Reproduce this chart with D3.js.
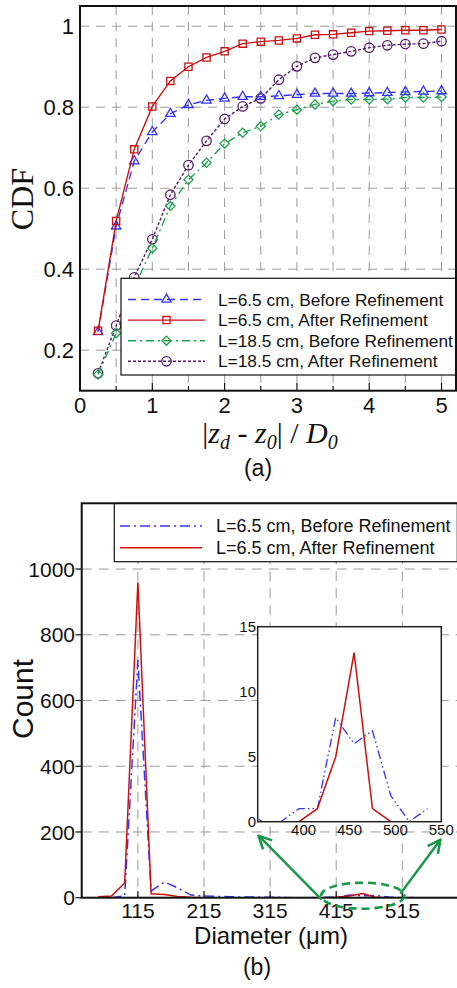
<!DOCTYPE html>
<html>
<head>
<meta charset="utf-8">
<script src="https://cdn.jsdelivr.net/npm/d3@7"></script>
<style>
  body { margin: 0; background: #fff; }
  svg { display: block; }
  text { font-family: "Liberation Sans", Arial, sans-serif; fill: #111; }
</style>
</head>
<body>
<div id="vizArea"></div>
<script>
// ---- data (a): CDF vs |zd - z0| / D0
const cdfX = [0.25, 0.5, 0.75, 1, 1.25, 1.5, 1.75, 2, 2.25, 2.5, 2.75, 3, 3.25, 3.5, 3.75, 4, 4.25, 4.5, 4.75, 5];
const before65 = [0.245, 0.506, 0.667, 0.739, 0.784, 0.806, 0.817, 0.822, 0.826, 0.826, 0.828, 0.831, 0.834, 0.834, 0.834, 0.835, 0.836, 0.838, 0.839, 0.840];
const after65 = [0.248, 0.519, 0.696, 0.802, 0.865, 0.900, 0.923, 0.938, 0.957, 0.962, 0.965, 0.970, 0.979, 0.980, 0.984, 0.988, 0.989, 0.990, 0.990, 0.992];
const before185 = [0.140, 0.242, 0.355, 0.452, 0.556, 0.621, 0.663, 0.710, 0.737, 0.753, 0.782, 0.794, 0.807, 0.815, 0.819, 0.819, 0.820, 0.824, 0.824, 0.825];
const after185 = [0.143, 0.261, 0.380, 0.474, 0.584, 0.657, 0.717, 0.771, 0.802, 0.822, 0.868, 0.901, 0.922, 0.930, 0.938, 0.947, 0.953, 0.956, 0.957, 0.963];
const cdfXTicks = [0, 1, 2, 3, 4, 5];
const cdfYTicks = [0.2, 0.4, 0.6, 0.8, 1];

// ---- data (b): count vs diameter
const diam = [55, 75, 95, 115, 135, 155, 175, 195, 215, 235, 255, 275, 295, 315, 335, 355, 375, 395, 415, 435, 455, 475, 495, 515, 535];
const countAfter = [3, 5, 45, 960, 12, 10, 4, 1, 0, 0, 0, 0, 0, 0, 0, 0, 0, 0, 1, 5, 13, 1, 0, 0, 0];
const diamBefore = [75, 95, 115, 135, 155, 175, 195, 215, 235, 255, 275, 295, 315, 335, 355, 375, 395, 415, 435, 455, 475, 495, 515, 535];
const countBefore = [0, 6, 723, 20, 48, 30, 8, 5, 4, 3, 2, 2, 1, 1, 0, 0, 1, 1, 8, 6, 7, 2, 0, 1];
const diamTicks = [115, 215, 315, 415, 515];
const countTicks = [0, 200, 400, 600, 800, 1000];
const insetXTicks = [400, 450, 500, 550];
const insetYTicks = [0, 5, 10, 15];

const svg = d3.select("#vizArea").append("svg")
    .attr("width", 457)
    .attr("height", 988);

const defs = svg.append("defs");

// ================= (a) =================
const xA = d3.scaleLinear().domain([0, 5.2]).range([80, 456]);
const yA = d3.scaleLinear().domain([0.1, 1.05]).range([390.7, 6]);

defs.append("clipPath").attr("id", "clipA").append("rect")
    .attr("x", 80).attr("y", 6).attr("width", 376).attr("height", 384.7);

const gA = svg.append("g");

// grid
gA.selectAll(".vgrid").data([0.5, 1, 1.5, 2, 2.5, 3, 3.5, 4, 4.5, 5]).join("line")
    .attr("x1", d => xA(d)).attr("x2", d => xA(d))
    .attr("y1", yA.range()[1]).attr("y2", yA.range()[0])
    .attr("stroke", "#9a9a9a").attr("stroke-dasharray", "9,7");
gA.selectAll(".hgrid").data(cdfYTicks).join("line")
    .attr("x1", xA.range()[0]).attr("x2", xA.range()[1])
    .attr("y1", d => yA(d)).attr("y2", d => yA(d))
    .attr("stroke", "#9a9a9a").attr("stroke-dasharray", "9,7");

const seriesA = [
  { name: "L=6.5 cm, Before Refinement", vals: before65, color: "#3535f5", dash: "8,5", sym: "tri" },
  { name: "L=6.5 cm, After Refinement", vals: after65, color: "#cc1010", dash: null, sym: "sq" },
  { name: "L=18.5 cm, Before Refinement", vals: before185, color: "#20a050", dash: "8,4,2,4", sym: "dia" },
  { name: "L=18.5 cm, After Refinement", vals: after185, color: "#561a68", dash: "3,2", sym: "circ" }
];

function symPath(kind) {
  if (kind === "tri") return d3.symbol().type(d3.symbolTriangle).size(38)();
  if (kind === "sq") return d3.symbol().type(d3.symbolSquare).size(52)();
  if (kind === "dia") return d3.symbol().type(d3.symbolSquare).size(42)();
  return d3.symbol().type(d3.symbolCircle).size(70)();
}
function symTransform(kind, x, y) {
  return kind === "dia" ? `translate(${x},${y}) rotate(45)` : `translate(${x},${y})`;
}

const lineA = d3.line().x(d => xA(d[0])).y(d => yA(d[1]));

// draw in order: after185, before185, before65, after65
[3, 2, 0, 1].forEach(i => {
  const s = seriesA[i];
  const pts = cdfX.map((x, j) => [x, s.vals[j]]);
  gA.append("path").datum(pts)
    .attr("clip-path", "url(#clipA)")
    .attr("fill", "none").attr("stroke", s.color).attr("stroke-width", 1.4)
    .attr("stroke-dasharray", s.dash)
    .attr("d", lineA);
  gA.selectAll(null).data(pts).join("path")
    .attr("d", symPath(s.sym))
    .attr("transform", d => symTransform(s.sym, xA(d[0]), yA(d[1])))
    .attr("fill", "none").attr("stroke", s.color).attr("stroke-width", 1.3);
});

// legend (a)
const legA = gA.append("g");
legA.append("rect").attr("x", 121).attr("y", 278.3).attr("width", 335).attr("height", 96.7)
    .attr("fill", "#fff").attr("stroke", "#111").attr("stroke-width", 1.2);
seriesA.forEach((s, i) => {
  const ly = 299.5 + i * 20.6;
  legA.append("line").attr("x1", 128).attr("x2", 205).attr("y1", ly).attr("y2", ly)
      .attr("stroke", s.color).attr("stroke-width", 1.4).attr("stroke-dasharray", s.dash);
  legA.append("path").attr("d", symPath(s.sym))
      .attr("transform", symTransform(s.sym, 166.5, ly))
      .attr("fill", "none").attr("stroke", s.color).attr("stroke-width", 1.3);
  legA.append("text").attr("x", 218).attr("y", ly).attr("dy", "0.35em")
      .attr("font-size", 17.3).text(s.name);
});

// frame (a)
gA.append("rect").attr("x", 80).attr("y", 6).attr("width", 376).attr("height", 384.7)
    .attr("fill", "none").attr("stroke", "#111").attr("stroke-width", 2);

// ticks (a)
gA.selectAll(".xt").data([0.5, 1, 1.5, 2, 2.5, 3, 3.5, 4, 4.5, 5]).join("line")
    .attr("x1", d => xA(d)).attr("x2", d => xA(d))
    .attr("y1", 390.7).attr("y2", d => Number.isInteger(d) ? 383 : 386)
    .attr("stroke", "#111").attr("stroke-width", 1.2);
gA.selectAll(".xl").data(cdfXTicks).join("text")
    .attr("x", d => xA(d)).attr("y", 413)
    .attr("text-anchor", "middle").attr("font-size", 22).text(d => d);
gA.selectAll(".yl").data(cdfYTicks).join("text")
    .attr("x", 74).attr("y", d => yA(d)).attr("dy", "0.36em")
    .attr("text-anchor", "end").attr("font-size", 22).text(d => d);

// axis titles (a)
gA.append("text")
    .attr("transform", "translate(33,199) rotate(-90)")
    .attr("text-anchor", "middle")
    .style("font-family", "'Liberation Serif', 'Times New Roman', serif")
    .attr("font-size", 32).text("CDF");

const xt = gA.append("text").attr("x", 270).attr("y", 443).attr("text-anchor", "middle")
    .style("font-family", "'Liberation Serif', 'Times New Roman', serif")
    .attr("font-size", 30);
xt.append("tspan").text("|");
xt.append("tspan").attr("font-style", "italic").text("z");
xt.append("tspan").attr("font-style", "italic").attr("font-size", 20).attr("dy", 6).text("d");
xt.append("tspan").attr("dy", -6).text(" - ");
xt.append("tspan").attr("font-style", "italic").text("z");
xt.append("tspan").attr("font-style", "italic").attr("font-size", 20).attr("dy", 6).text("0");
xt.append("tspan").attr("dy", -6).text("| / ");
xt.append("tspan").attr("font-style", "italic").text("D");
xt.append("tspan").attr("font-style", "italic").attr("font-size", 20).attr("dy", 6).text("0");

gA.append("text").attr("x", 258).attr("y", 476).attr("text-anchor", "middle")
    .attr("font-size", 23).text("(a)");

// ================= (b) =================
const xB = d3.scaleLinear().domain([30, 600]).range([81.7, 458.5]);
const yB = d3.scaleLinear().domain([0, 1200]).range([897.7, 503.3]);

defs.append("clipPath").attr("id", "clipB").append("rect")
    .attr("x", 81.7).attr("y", 503.3).attr("width", 380).attr("height", 394.4);

const gB = svg.append("g");

gB.selectAll(".vg").data(diamTicks).join("line")
    .attr("x1", d => xB(d)).attr("x2", d => xB(d))
    .attr("y1", yB.range()[1]).attr("y2", yB.range()[0])
    .attr("stroke", "#9a9a9a").attr("stroke-dasharray", "10,7");
gB.selectAll(".hg").data(countTicks.slice(1)).join("line")
    .attr("x1", xB.range()[0]).attr("x2", xB.range()[1])
    .attr("y1", d => yB(d)).attr("y2", d => yB(d))
    .attr("stroke", "#9a9a9a").attr("stroke-dasharray", "10,7");

const lineB = d3.line().x(d => xB(d[0])).y(d => yB(d[1]));
const ptsBefore = diamBefore.map((d, i) => [d, countBefore[i]]);
const ptsAfter = diam.map((d, i) => [d, countAfter[i]]);
const blueB = "#3535f5", redB = "#cc1010";

gB.append("path").datum(ptsBefore).attr("clip-path", "url(#clipB)")
    .attr("fill", "none").attr("stroke", blueB).attr("stroke-width", 1.5)
    .attr("stroke-dasharray", "10,4,2,4").attr("d", lineB);
gB.append("path").datum(ptsAfter).attr("clip-path", "url(#clipB)")
    .attr("fill", "none").attr("stroke", redB).attr("stroke-width", 1.5).attr("d", lineB);

// inset
const xI = d3.scaleLinear().domain([350, 550]).range([257.7, 441.3]);
const yI = d3.scaleLinear().domain([0, 15]).range([821.7, 626.7]);
defs.append("clipPath").attr("id", "clipI").append("rect")
    .attr("x", 257.7).attr("y", 626.7).attr("width", 183.6).attr("height", 195);

const gI = gB.append("g");
gI.append("rect").attr("x", 257.7).attr("y", 626.7).attr("width", 183.6).attr("height", 195)
    .attr("fill", "#fff");
const lineI = d3.line().x(d => xI(d[0])).y(d => yI(d[1]));
gI.append("path").datum(ptsBefore).attr("clip-path", "url(#clipI)")
    .attr("fill", "none").attr("stroke", blueB).attr("stroke-width", 1.3)
    .attr("stroke-dasharray", "9,3,1.5,3,1.5,3").attr("d", lineI);
gI.append("path").datum(ptsAfter).attr("clip-path", "url(#clipI)")
    .attr("fill", "none").attr("stroke", redB).attr("stroke-width", 1.5).attr("d", lineI);
gI.append("rect").attr("x", 257.7).attr("y", 626.7).attr("width", 183.6).attr("height", 195)
    .attr("fill", "none").attr("stroke", "#222").attr("stroke-width", 1.5);
gI.selectAll(".iy").data(insetYTicks).join("text")
    .attr("x", 256).attr("y", d => yI(d)).attr("dy", "0.36em")
    .attr("text-anchor", "end").attr("font-size", 15).text(d => d);
gI.selectAll(".ix").data(insetXTicks).join("text")
    .attr("x", d => xI(d)).attr("y", 835)
    .attr("text-anchor", "middle").attr("font-size", 15).text(d => d);

// legend (b)
const legB = gB.append("g");
legB.append("rect").attr("x", 114.3).attr("y", 503.3).attr("width", 343).attr("height", 58.4)
    .attr("fill", "#fff").attr("stroke", "#111").attr("stroke-width", 1.2);
[["L=6.5 cm, Before Refinement", blueB, "10,4,2,4"], ["L=6.5 cm, After Refinement", redB, null]].forEach((r, i) => {
  const ly = 526 + i * 21.7;
  legB.append("line").attr("x1", 120).attr("x2", 202).attr("y1", ly).attr("y2", ly)
      .attr("stroke", r[1]).attr("stroke-width", 1.5).attr("stroke-dasharray", r[2]);
  legB.append("text").attr("x", 216).attr("y", ly).attr("dy", "0.35em")
      .attr("font-size", 18).text(r[0]);
});

// frame (b)
gB.append("rect").attr("x", 81.7).attr("y", 503.3).attr("width", 376.8).attr("height", 394.4)
    .attr("fill", "none").attr("stroke", "#111").attr("stroke-width", 2);

gB.selectAll(".ytB").data(countTicks).join("line")
    .attr("x1", 75.5).attr("x2", 81.7).attr("y1", d => yB(d)).attr("y2", d => yB(d))
    .attr("stroke", "#111").attr("stroke-width", 1.2);
gB.selectAll(".xtB").data(diamTicks).join("line")
    .attr("x1", d => xB(d)).attr("x2", d => xB(d)).attr("y1", 897.7).attr("y2", 891)
    .attr("stroke", "#111").attr("stroke-width", 1.2);
gB.selectAll(".ylB").data(countTicks).join("text")
    .attr("x", 75).attr("y", d => yB(d)).attr("dy", "0.36em")
    .attr("text-anchor", "end").attr("font-size", 21).text(d => d);
gB.selectAll(".xlB").data(diamTicks).join("text")
    .attr("x", d => xB(d)).attr("y", 918)
    .attr("text-anchor", "middle").attr("font-size", 21).text(d => d);

gB.append("text").attr("transform", "translate(33,699) rotate(-90)")
    .attr("text-anchor", "middle").attr("font-size", 30).text("Count");
gB.append("text").attr("x", 271).attr("y", 944).attr("text-anchor", "middle")
    .attr("font-size", 24).text("Diameter (\u03bcm)");
gB.append("text").attr("x", 257).attr("y", 975).attr("text-anchor", "middle")
    .attr("font-size", 23).text("(b)");

// zoom annotation: dashed ellipse + arrows
const green = "#17974a";
defs.append("marker").attr("id", "head").attr("viewBox", "0 0 14 14")
    .attr("refX", 13).attr("refY", 7).attr("markerWidth", 15).attr("markerHeight", 15)
    .attr("markerUnits", "userSpaceOnUse").attr("orient", "auto")
    .append("path").attr("d", "M1,1 L13,7 L1,13").attr("fill", "none")
    .attr("stroke", green).attr("stroke-width", 2.4);

gB.append("ellipse").attr("cx", xB(455)).attr("cy", yB(0) - 2)
    .attr("rx", 41.7).attr("ry", 13)
    .attr("fill", "none").attr("stroke", green).attr("stroke-width", 2.6)
    .attr("stroke-dasharray", "8,5");
gB.append("line").attr("x1", xB(393)).attr("y1", yB(0) + 2)
    .attr("x2", xI(351)).attr("y2", yI(0) + 14)
    .attr("stroke", green).attr("stroke-width", 2.4).attr("marker-end", "url(#head)");
gB.append("line").attr("x1", xB(512)).attr("y1", yB(0) - 4)
    .attr("x2", xI(549)).attr("y2", yI(0) + 18)
    .attr("stroke", green).attr("stroke-width", 2.4).attr("marker-end", "url(#head)");
</script>
</body>
</html>
